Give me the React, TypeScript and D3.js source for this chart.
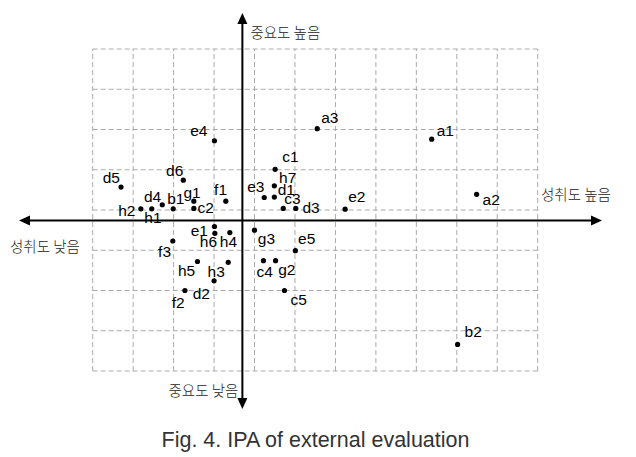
import React from "react";
import * as d3 from "d3";

// IPA items: performance (x) and importance (y) in grid units
const labels = ["a1","a2","a3","b1","b2","c1","c2","c3","c4","c5","d1","d2","d3","d4","d5","d6","e1","e2","e3","e4","e5","f1","f2","f3","g1","g2","g3","h1","h2","h3","h4","h5","h6","h7"];
const performance = [8.38,9.49,5.55,1.99,9.02,4.51,2.50,4.71,4.22,4.74,4.49,3.00,5.02,1.72,0.70,2.24,3.01,6.24,4.24,3.01,5.01,3.29,2.28,1.98,2.50,4.52,4.00,1.46,1.19,3.35,3.39,2.59,3.02,4.49];
const importance = [5.76,4.39,6.02,4.03,0.66,5.01,4.04,4.04,2.74,2.00,4.32,2.24,4.04,4.13,4.57,4.74,3.59,4.02,4.31,5.72,2.99,4.22,2.00,3.23,4.22,2.74,3.50,4.03,4.03,2.70,3.44,2.72,3.42,4.60];
const meanPerformance = 3.70;
const meanImportance = 3.74;
const xTicks = d3.range(0, 12);
const yTicks = d3.range(0, 9);

const axisText = { top: "중요도 높음", bottom: "중요도 낮음", left: "성취도 낮음", right: "성취도 높음" };
const caption = "Fig. 4. IPA of external evaluation";

// label placement (offset from dot, in px)
const labelOffsets: Record<string, [number, number]> = {
  a1: [5, -3], a2: [6, 11], a3: [4, -6], b1: [-6, -4.7], b2: [7, -7.6],
  c1: [7, -7.6], c2: [3.6, 4.7], c3: [1, -4.3], c4: [-7, 16], c5: [6, 14],
  d1: [3.4, -2.3], d2: [-21.3, 18.6], d3: [6.6, 4.4], d4: [-18.3, -3], d5: [-18.3, -4.3], d6: [-17.3, -4.3],
  e1: [-23.8, 9.2], e2: [3, -7.3], e3: [-17, -5.4], e4: [-24.3, -4.7], e5: [2.7, -6.4],
  f1: [-11.7, -6], f2: [-13.3, 17.4], f3: [-14.7, 16.3],
  g1: [-10.4, -3], g2: [2.6, 14.3], g3: [3.3, 14.3],
  h1: [-7.4, 14], h2: [-22.7, 7.3], h3: [-20.6, 15], h4: [-10, 14.6], h5: [-19.6, 14], h6: [-15, 14], h7: [4.7, -2.7],
};

const W = 636, H = 457;

export default function App() {
  const x = d3.scaleLinear().domain([0, 11]).range([92.7, 537.7]);
  const y = d3.scaleLinear().domain([0, 8]).range([371, 49]);
  const ax = x(meanPerformance);
  const ay = y(meanImportance);
  const left = 19, right = 602, top = 13, bottom = 409;
  const ah = 11, aw = 5;
  const latin = "'Liberation Sans', Arial, sans-serif";
  const kr = "'Noto Sans CJK KR', sans-serif";
  return (
    <svg width={W} height={H} style={{ position: "absolute", left: 0, top: 0, background: "#fff" }}>
      <rect width={W} height={H} fill="#fff" />
      <g stroke="#aaaaaa" strokeWidth={1} strokeDasharray="5,3" fill="none">
        {xTicks.map((t) => (
          <line key={"vx" + t} x1={x(t)} x2={x(t)} y1={y(0)} y2={y(8)} />
        ))}
        {yTicks.map((t) => (
          <line key={"hy" + t} x1={x(0)} x2={x(11)} y1={y(t)} y2={y(t)} />
        ))}
      </g>
      {/* axes */}
      <g stroke="#000" strokeWidth={2}>
        <line x1={left + ah - 1} x2={right - ah + 1} y1={ay} y2={ay} />
        <line x1={ax} x2={ax} y1={top + ah - 1} y2={bottom - ah + 1} />
      </g>
      <g fill="#000">
        <polygon points={`${left},${ay} ${left + ah},${ay - aw} ${left + ah},${ay + aw}`} />
        <polygon points={`${right},${ay} ${right - ah},${ay - aw} ${right - ah},${ay + aw}`} />
        <polygon points={`${ax},${top} ${ax - aw},${top + ah} ${ax + aw},${top + ah}`} />
        <polygon points={`${ax},${bottom} ${ax - aw},${bottom - ah} ${ax + aw},${bottom - ah}`} />
      </g>
      <g fontFamily={kr} fontSize={14.5} fill="#222" fontWeight={300}>
        <text x={ax + 8} y={38}>{axisText.top}</text>
        <text x={ax - 4} y={396} textAnchor="end">{axisText.bottom}</text>
        <text x={10} y={252}>{axisText.left}</text>
        <text x={541} y={200}>{axisText.right}</text>
      </g>
      <g>
        {labels.map((l, i) => {
          const cx = x(performance[i]);
          const cy = y(importance[i]);
          const [dx, dy] = labelOffsets[l] || [4, -4];
          return (
            <g key={l}>
              <circle cx={cx} cy={cy} r={2.6} fill="#000" />
              <text x={cx + dx} y={cy + dy} fontFamily={latin} fontSize={15.5} fill="#000">{l}</text>
            </g>
          );
        })}
      </g>
      <text x={315.5} y={447.3} textAnchor="middle" fontFamily={latin} fontSize={21.5} fill="#333">{caption}</text>
    </svg>
  );
}
